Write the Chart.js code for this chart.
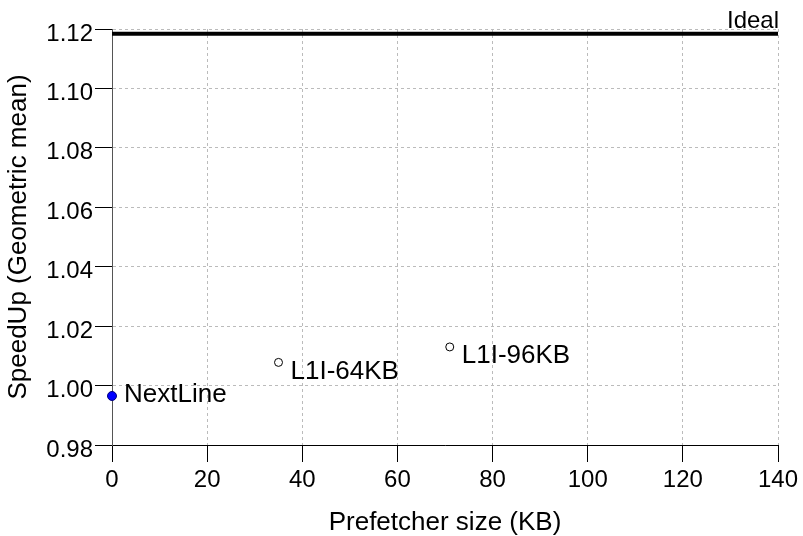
<!DOCTYPE html>
<html>
<head>
<meta charset="utf-8">
<script src="https://cdn.jsdelivr.net/npm/chart.js@4/dist/chart.umd.min.js"></script>
<style>
html, body { margin: 0; padding: 0; background: #fff; }
</style>
</head>
<body>
<canvas id="myChart" width="803" height="536"></canvas>
<script>
const prefetchers = ['NextLine', 'L1I-64KB', 'L1I-96KB']
const sizesKB = [0, 35, 71]
const speedups = [0.9965, 1.0078, 1.0130]
const idealSpeedup = 1.1184
const xTicks = [0, 20, 40, 60, 80, 100, 120, 140]
const yTicks = [0.98, 1.00, 1.02, 1.04, 1.06, 1.08, 1.10, 1.12]

const FONT = '"Liberation Sans", Arial, Helvetica, sans-serif'

// etiquetas junto a cada punto + "Ideal"
const etiquetas = {
    id: 'etiquetas',
    afterDatasetsDraw(chart) {
        const ctx = chart.ctx
        const puntos = chart.getDatasetMeta(1).data
        ctx.save()
        ctx.fillStyle = '#000'
        ctx.font = '26px ' + FONT
        ctx.textAlign = 'left'
        ctx.textBaseline = 'middle'
        puntos.forEach((pt, i) => {
            const dy = i === 0 ? -1 : 9
            ctx.fillText(prefetchers[i], pt.x + 12, pt.y + dy)
        })
        const ideal = chart.getDatasetMeta(0).data[1]
        ctx.font = '24px ' + FONT
        ctx.textAlign = 'right'
        ctx.textBaseline = 'alphabetic'
        ctx.fillText('Ideal', ideal.x + 1, ideal.y - 6)
        ctx.restore()
    }
}

const ctx = document.getElementById('myChart')
const myChart = new Chart(ctx, {
    type: 'scatter',
    data: {
        datasets: [{
            type: 'line',
            label: 'Ideal',
            data: [{x: xTicks[0], y: idealSpeedup}, {x: xTicks[xTicks.length - 1], y: idealSpeedup}],
            borderColor: '#000',
            borderWidth: 4,
            pointRadius: 0,
            clip: false
        }, {
            label: 'Prefetchers',
            data: sizesKB.map((s, i) => ({x: s, y: speedups[i]})),
            backgroundColor: ['#0000ff', '#fff', '#fff'],
            borderColor: ['#00007a', '#000', '#000'],
            borderWidth: 1,
            pointRadius: [4.5, 4, 4],
            clip: false
        }]
    },
    options: {
        responsive: false,
        animation: false,
        devicePixelRatio: 1,
        layout: { padding: { top: 29, right: 25, left: 0, bottom: 0 } },
        plugins: {
            legend: { display: false },
            tooltip: { enabled: false }
        },
        scales: {
            x: {
                type: 'linear',
                min: xTicks[0],
                max: xTicks[xTicks.length - 1],
                afterBuildTicks: s => { s.ticks = xTicks.map(v => ({value: v})) },
                afterFit: s => { s.height = 91 },
                grid: { color: '#bbb', tickColor: '#000', tickLength: 17 },
                border: { color: '#000', width: 1, dash: [3, 3] },
                ticks: { color: '#000', padding: 4, maxRotation: 0, font: { family: FONT, size: 24 } },
                title: {
                    display: true,
                    text: 'Prefetcher size (KB)',
                    color: '#000',
                    padding: 0,
                    font: { family: FONT, size: 26, lineHeight: 1 }
                }
            },
            y: {
                type: 'linear',
                min: yTicks[0],
                max: yTicks[yTicks.length - 1],
                afterBuildTicks: s => { s.ticks = yTicks.map(v => ({value: v})) },
                afterFit: s => { s.width = 112 },
                grid: { color: '#bbb', tickColor: '#000', tickLength: 17 },
                border: { color: '#555', width: 1, dash: [3, 3] },
                ticks: {
                    color: '#000',
                    padding: 2,
                    labelOffset: 5,
                    font: { family: FONT, size: 24 },
                    callback: v => v.toFixed(2)
                },
                title: {
                    display: true,
                    text: 'SpeedUp (Geometric mean)',
                    color: '#000',
                    padding: { top: 6, bottom: 0 },
                    font: { family: FONT, size: 26, lineHeight: 1 }
                }
            }
        }
    },
    plugins: [etiquetas]
})
</script>
</body>
</html>
